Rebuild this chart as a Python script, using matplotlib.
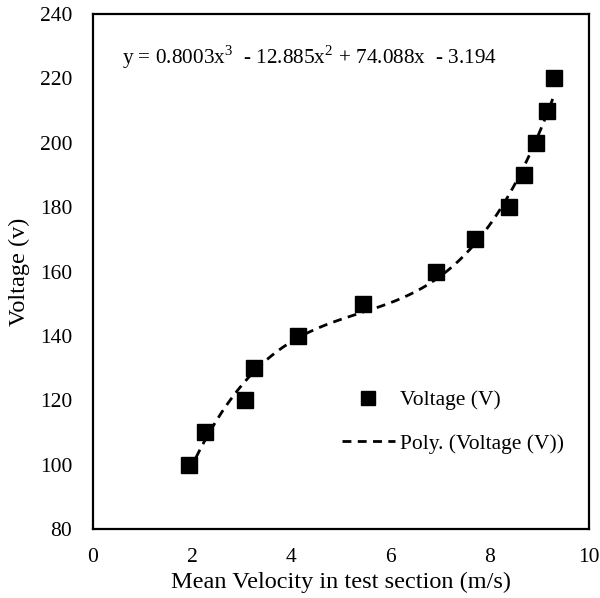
import numpy as np
import matplotlib
matplotlib.use("Agg")
import matplotlib.pyplot as plt

# -----------------------------
# DATA
# -----------------------------
velocity = [1.94, 2.26, 3.06, 3.25, 4.13, 5.44, 6.92, 7.70, 8.39, 8.69, 8.93, 9.15, 9.29]
voltage = [100, 110, 120, 130, 140, 150, 160, 170, 180, 190, 200, 210, 220]

# cubic trendline coefficients, highest power first
poly_coef = [0.8003, -12.885, 74.088, -3.194]
equation = "y = 0.8003x$^3$  - 12.885x$^2$ + 74.088x  - 3.194"

x_ticks = [0, 2, 4, 6, 8, 10]
y_ticks = [80, 100, 120, 140, 160, 180, 200, 220, 240]

# -----------------------------
# PLOT
# -----------------------------
plt.rcParams["font.family"] = ["Liberation Serif", "DejaVu Serif"]
plt.rcParams["mathtext.fontset"] = "custom"
plt.rcParams["mathtext.rm"] = "Liberation Serif"

fig = plt.figure(figsize=(6, 5.98), dpi=100)
ax = fig.add_axes([0.155, 0.1154, 0.827, 0.861])

ax.plot(velocity, voltage, linestyle="none", marker="s", color="black",
        markersize=11.2, label="Voltage (V)", zorder=3)

xs = np.linspace(min(velocity), max(velocity), 200)
ax.plot(xs, np.polyval(poly_coef, xs), color="black", linewidth=2.0,
        dashes=(3.2, 2.3), label="Poly. (Voltage (V))", zorder=2)

ax.text(0.58, 226.6, equation, fontsize=15.3, va="center", ha="left")

ax.set_xlim(0, 10)
ax.set_ylim(80, 240)
ax.set_xticks(x_ticks)
ax.set_yticks(y_ticks)
ax.tick_params(length=0, labelsize=15.5)
ax.tick_params(axis="y", pad=15)
ax.tick_params(axis="x", pad=14)
for s in ax.spines.values():
    s.set_linewidth(1.6)
    s.set_color("black")

ax.set_xlabel("Mean Velocity in test section (m/s)", fontsize=17.5, labelpad=3)
ax.set_ylabel("Voltage (v)", fontsize=17.5, labelpad=7)

ax.legend(loc="upper left", bbox_to_anchor=(0.537, 0.38), bbox_transform=fig.transFigure,
          frameon=False, fontsize=15.5, handlelength=2.5, handletextpad=0.2,
          labelspacing=1.1, markerscale=0.9)

fig.savefig("out.png", dpi=100)
